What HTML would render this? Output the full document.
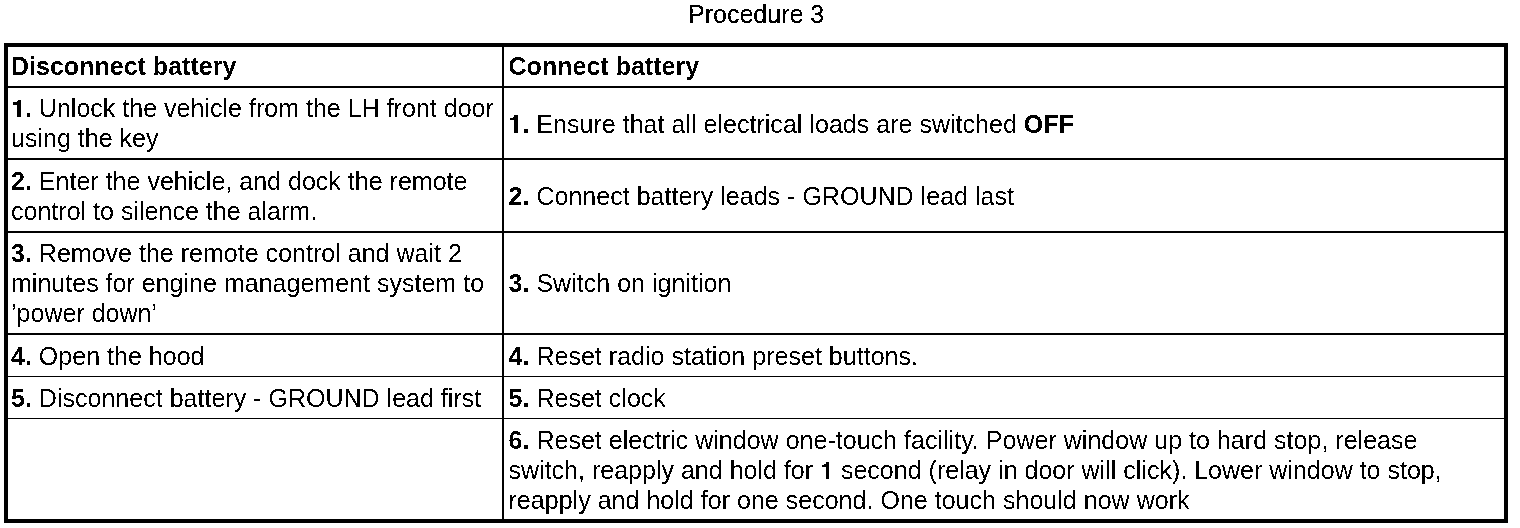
<!DOCTYPE html>
<html><head><meta charset="utf-8">
<style>
html,body{margin:0;padding:0;background:#fff;}
body{width:1520px;height:528px;position:relative;overflow:hidden;font-family:"Liberation Sans",sans-serif;font-size:25px;color:#000;}
#w{position:absolute;left:0;top:0;width:1520px;height:528px;background:#fff;filter:url(#bw);}
.l{position:absolute;background:#000;}
.t{position:absolute;white-space:nowrap;line-height:30px;height:30px;}
.a{left:11px;letter-spacing:0.015px;}
.b{left:508.5px;letter-spacing:0.025px;}
b{font-weight:bold;}
.g1{display:inline-block;position:relative;width:0.556em;height:0;}
.g1 i{position:absolute;background:#000;}
</style></head><body>
<svg width="0" height="0" style="position:absolute"><filter id="bw" color-interpolation-filters="sRGB"><feColorMatrix type="matrix" values="0.3 0.59 0.11 0 0  0.3 0.59 0.11 0 0  0.3 0.59 0.11 0 0  0 0 0 1 0"/><feComponentTransfer><feFuncR type="discrete" tableValues="0 1"/><feFuncG type="discrete" tableValues="0 1"/><feFuncB type="discrete" tableValues="0 1"/></feComponentTransfer></filter></svg>
<div id="w">
<div class="t" style="left:688px;top:-1px;font-size:26px;transform:scaleX(0.962);-webkit-text-stroke:0.2px #000;transform-origin:0 0;">Procedure 3</div>

<div class="l" style="left:4px;top:43px;width:1504px;height:4px;"></div>
<div class="l" style="left:4px;top:519px;width:1504px;height:4px;"></div>
<div class="l" style="left:4px;top:43px;width:4px;height:480px;"></div>
<div class="l" style="left:1504px;top:43px;width:4px;height:480px;"></div>
<div class="l" style="left:502px;top:47px;width:2px;height:472px;"></div>
<div class="l" style="left:8px;top:86px;width:1496px;height:2px;"></div>
<div class="l" style="left:8px;top:158px;width:1496px;height:2px;"></div>
<div class="l" style="left:8px;top:231px;width:1496px;height:2px;"></div>
<div class="l" style="left:8px;top:333px;width:1496px;height:2px;"></div>
<div class="l" style="left:8px;top:376px;width:1496px;height:1px;"></div>
<div class="l" style="left:8px;top:418px;width:1496px;height:1px;"></div>

<div class="t a" style="top:51px;"><b>Disconnect battery</b></div>
<div class="t a" style="top:93px;"><b><span class="g1"><i style="left:6px;width:4px;bottom:0;height:16px"></i><i style="left:7px;width:3px;bottom:16px;height:1px"></i><i style="left:2px;width:4px;bottom:12px;height:3px"></i></span>.</b> Unlock the vehicle from the LH front door</div>
<div class="t a" style="top:123px;">using the key</div>
<div class="t a" style="top:166px;"><b>2.</b> Enter the vehicle, and dock the remote</div>
<div class="t a" style="top:196px;">control to silence the alarm.</div>
<div class="t a" style="top:238px;"><b>3.</b> Remove the remote control and wait 2</div>
<div class="t a" style="top:268px;">minutes for engine management system to</div>
<div class="t a" style="top:298px;">&#8217;power down&#8217;</div>
<div class="t a" style="top:341px;"><b>4.</b> Open the hood</div>
<div class="t a" style="top:383px;"><b>5.</b> Disconnect battery - GROUND lead first</div>

<div class="t b" style="top:51px;"><b>Connect battery</b></div>
<div class="t b" style="top:109px;"><b><span class="g1"><i style="left:5.5px;width:4px;bottom:0;height:18px"></i><i style="left:1.5px;width:4px;bottom:13px;height:2px"></i><i style="left:4.5px;width:1px;bottom:15px;height:1px"></i></span>.</b> Ensure that all electrical loads are switched <b>OFF</b></div>
<div class="t b" style="top:181px;"><b>2.</b> Connect battery leads - GROUND lead last</div>
<div class="t b" style="top:268px;"><b>3.</b> Switch on ignition</div>
<div class="t b" style="top:341px;"><b>4.</b> Reset radio station preset buttons.</div>
<div class="t b" style="top:383px;"><b>5.</b> Reset clock</div>
<div class="t b" style="top:425px;"><b>6.</b> Reset electric window one-touch facility. Power window up to hard stop, release</div>
<div class="t b" style="top:455px;letter-spacing:0.01px;">switch, reapply and hold for <span class="g1"><i style="left:5.5px;width:3px;bottom:0;height:17px"></i><i style="left:1.5px;width:4px;bottom:12px;height:2px"></i><i style="left:3.5px;width:2px;bottom:14px;height:1px"></i></span> second (relay in door will click). Lower window to stop,</div>
<div class="t b" style="top:485px;">reapply and hold for one second. One touch should now work</div>
</div>
</body></html>
